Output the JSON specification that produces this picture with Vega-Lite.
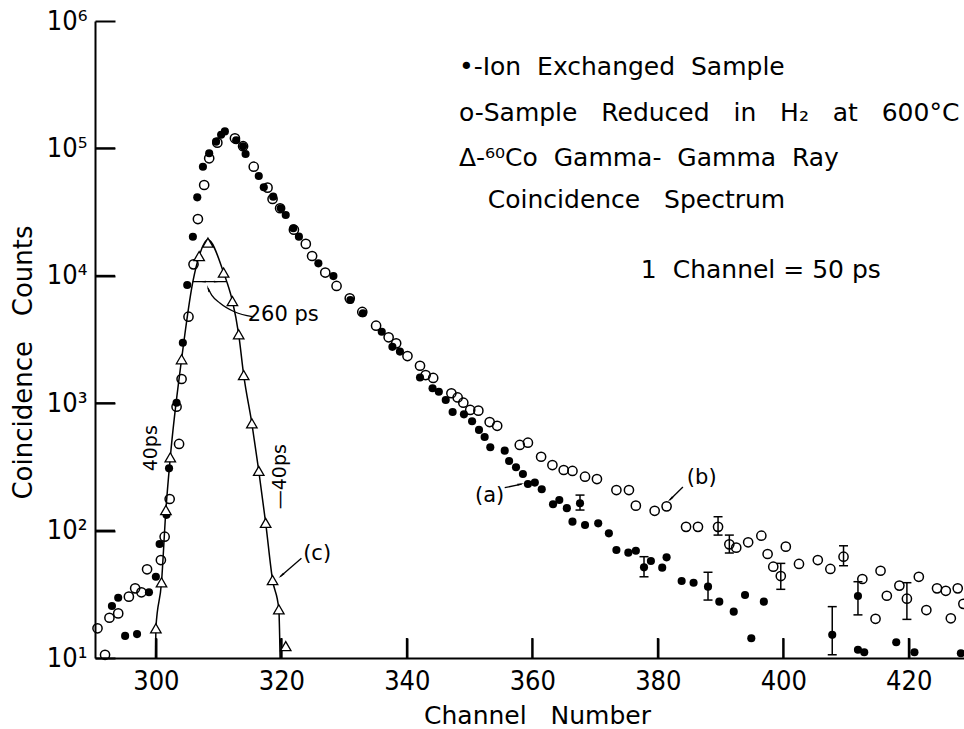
{
  "$schema": "https://vega.github.io/schema/vega-lite/v6.json",
  "width": 869,
  "height": 637,
  "autosize": {"type": "none"},
  "padding": {"left": 95, "top": 21, "right": 0, "bottom": 71},
  "background": "white",
  "config": {
    "view": {"stroke": null},
    "axis": {"grid": false},
    "text": {"font": "DejaVu Sans", "color": "black"}
  },
  "datasets": {
    "ion": [
      {"ch": 293.0, "v": 25.6}, {"ch": 294.0, "v": 29.7}, {"ch": 295.1, "v": 14.9}, {"ch": 297.0, "v": 15.4},
      {"ch": 298.9, "v": 32.8}, {"ch": 300.0, "v": 43.4}, {"ch": 300.6, "v": 78.5}, {"ch": 301.7, "v": 133},
      {"ch": 302.1, "v": 308}, {"ch": 303.3, "v": 1009}, {"ch": 304.3, "v": 2985}, {"ch": 305.0, "v": 8470},
      {"ch": 305.9, "v": 20270}, {"ch": 306.6, "v": 41300}, {"ch": 307.5, "v": 71800}, {"ch": 308.5, "v": 91600},
      {"ch": 309.6, "v": 113000}, {"ch": 310.4, "v": 128000}, {"ch": 311.0, "v": 136000}, {"ch": 312.8, "v": 116000},
      {"ch": 313.9, "v": 104000}, {"ch": 314.3, "v": 90400}, {"ch": 316.4, "v": 60700}, {"ch": 317.2, "v": 49500},
      {"ch": 318.7, "v": 41800}, {"ch": 319.9, "v": 33900}, {"ch": 320.7, "v": 30000}, {"ch": 321.9, "v": 23600},
      {"ch": 322.8, "v": 20300}, {"ch": 325.9, "v": 12530}, {"ch": 328.3, "v": 9950}, {"ch": 331.0, "v": 6460},
      {"ch": 333.0, "v": 5080}, {"ch": 336.0, "v": 3640}, {"ch": 337.7, "v": 2770}, {"ch": 338.9, "v": 2540},
      {"ch": 342.1, "v": 1592}, {"ch": 344.1, "v": 1309}, {"ch": 345.1, "v": 1231}, {"ch": 346.2, "v": 1060},
      {"ch": 347.3, "v": 853}, {"ch": 349.1, "v": 818}, {"ch": 350.4, "v": 721}, {"ch": 351.5, "v": 617},
      {"ch": 352.4, "v": 543}, {"ch": 353.3, "v": 451}, {"ch": 355.6, "v": 424}, {"ch": 356.3, "v": 352},
      {"ch": 357.4, "v": 314}, {"ch": 358.5, "v": 278}, {"ch": 359.3, "v": 232}, {"ch": 360.4, "v": 238},
      {"ch": 361.5, "v": 211}, {"ch": 363.3, "v": 161}, {"ch": 364.3, "v": 174}, {"ch": 365.5, "v": 150},
      {"ch": 366.4, "v": 117.6}, {"ch": 367.6, "v": 164}, {"ch": 368.4, "v": 110.7}, {"ch": 370.5, "v": 114},
      {"ch": 372.2, "v": 95.2}, {"ch": 373.4, "v": 70.5}, {"ch": 375.3, "v": 67.1}, {"ch": 376.5, "v": 69.5},
      {"ch": 377.8, "v": 51.5}, {"ch": 378.9, "v": 57.7}, {"ch": 380.7, "v": 51.2}, {"ch": 381.4, "v": 61.7},
      {"ch": 383.8, "v": 40.2}, {"ch": 385.7, "v": 39.0}, {"ch": 388.0, "v": 36.3}, {"ch": 389.8, "v": 27.7},
      {"ch": 392.1, "v": 23.1}, {"ch": 393.9, "v": 31.2}, {"ch": 394.9, "v": 14.3}, {"ch": 396.9, "v": 27.7},
      {"ch": 407.8, "v": 15.2}, {"ch": 411.9, "v": 30.7}, {"ch": 411.9, "v": 11.6}, {"ch": 412.9, "v": 11.1},
      {"ch": 418.0, "v": 13.3}, {"ch": 420.9, "v": 11.1}, {"ch": 428.3, "v": 10.9}
    ],
    "red": [
      {"ch": 290.7, "v": 17.1}, {"ch": 291.9, "v": 10.6}, {"ch": 292.6, "v": 20.7}, {"ch": 294.0, "v": 22.4},
      {"ch": 295.7, "v": 30.3}, {"ch": 296.7, "v": 35.2}, {"ch": 297.7, "v": 32.8}, {"ch": 298.6, "v": 49.7},
      {"ch": 300.8, "v": 58.7}, {"ch": 301.4, "v": 89.6}, {"ch": 302.2, "v": 177}, {"ch": 303.7, "v": 479},
      {"ch": 303.3, "v": 939}, {"ch": 304.1, "v": 1549}, {"ch": 305.2, "v": 4775}, {"ch": 306.0, "v": 12300},
      {"ch": 306.7, "v": 27900}, {"ch": 307.7, "v": 51600}, {"ch": 308.5, "v": 83600}, {"ch": 309.8, "v": 111000},
      {"ch": 312.6, "v": 120000}, {"ch": 313.9, "v": 104000}, {"ch": 315.6, "v": 71800}, {"ch": 317.8, "v": 49200},
      {"ch": 318.6, "v": 40100}, {"ch": 319.8, "v": 33900}, {"ch": 322.0, "v": 23000}, {"ch": 323.9, "v": 17800},
      {"ch": 324.9, "v": 14300}, {"ch": 327.0, "v": 10600}, {"ch": 328.8, "v": 8320}, {"ch": 330.9, "v": 6650},
      {"ch": 332.9, "v": 5200}, {"ch": 335.1, "v": 4060}, {"ch": 337.1, "v": 3290}, {"ch": 338.3, "v": 2950},
      {"ch": 340.1, "v": 2345}, {"ch": 342.1, "v": 1968}, {"ch": 343.0, "v": 1663}, {"ch": 344.2, "v": 1578},
      {"ch": 347.1, "v": 1197}, {"ch": 348.1, "v": 1109}, {"ch": 349.0, "v": 1009}, {"ch": 350.1, "v": 885},
      {"ch": 351.4, "v": 874}, {"ch": 353.2, "v": 711}, {"ch": 354.4, "v": 665}, {"ch": 358.0, "v": 470},
      {"ch": 359.3, "v": 490}, {"ch": 361.4, "v": 380}, {"ch": 363.2, "v": 327}, {"ch": 365.0, "v": 299},
      {"ch": 366.4, "v": 294}, {"ch": 368.4, "v": 265}, {"ch": 370.3, "v": 254}, {"ch": 373.4, "v": 208},
      {"ch": 375.4, "v": 208}, {"ch": 376.5, "v": 157}, {"ch": 379.5, "v": 143}, {"ch": 381.4, "v": 155},
      {"ch": 384.5, "v": 107}, {"ch": 386.4, "v": 107}, {"ch": 389.6, "v": 107}, {"ch": 391.4, "v": 78},
      {"ch": 392.5, "v": 73.5}, {"ch": 394.4, "v": 80.9}, {"ch": 396.5, "v": 91.2}, {"ch": 397.5, "v": 65.5},
      {"ch": 398.4, "v": 52.1}, {"ch": 399.6, "v": 44.0}, {"ch": 400.4, "v": 74.8}, {"ch": 402.5, "v": 54.7},
      {"ch": 405.5, "v": 58.7}, {"ch": 407.5, "v": 50.0}, {"ch": 409.6, "v": 62.4}, {"ch": 412.6, "v": 41.7},
      {"ch": 414.7, "v": 20.3}, {"ch": 415.5, "v": 48.4}, {"ch": 416.5, "v": 30.8}, {"ch": 418.5, "v": 37.0},
      {"ch": 419.7, "v": 29.2}, {"ch": 421.6, "v": 43.4}, {"ch": 422.8, "v": 23.8}, {"ch": 424.5, "v": 35.2},
      {"ch": 425.9, "v": 33.7}, {"ch": 426.7, "v": 20.5}, {"ch": 427.8, "v": 35.2}, {"ch": 428.7, "v": 26.6}
    ],
    "co": [
      {"ch": 300.0, "v": 17.1}, {"ch": 300.9, "v": 39.3}, {"ch": 301.6, "v": 145}, {"ch": 302.3, "v": 376},
      {"ch": 304.1, "v": 2213}, {"ch": 306.9, "v": 14300}, {"ch": 308.3, "v": 18200}, {"ch": 310.8, "v": 10600},
      {"ch": 312.2, "v": 6340}, {"ch": 313.2, "v": 3475}, {"ch": 314.0, "v": 1663}, {"ch": 315.3, "v": 695},
      {"ch": 316.4, "v": 294}, {"ch": 317.5, "v": 115}, {"ch": 318.6, "v": 40.9}, {"ch": 319.6, "v": 24.1},
      {"ch": 320.7, "v": 12.4}
    ],
    "coline": [
      {"ch": 299.95, "v": 10}, {"ch": 300.0, "v": 17.1}, {"ch": 300.9, "v": 39.3}, {"ch": 301.6, "v": 145},
      {"ch": 302.3, "v": 376}, {"ch": 304.1, "v": 2213}, {"ch": 305.9, "v": 9000}, {"ch": 306.9, "v": 14300},
      {"ch": 308.3, "v": 19200}, {"ch": 310.8, "v": 10600}, {"ch": 311.3, "v": 9000}, {"ch": 312.2, "v": 6340},
      {"ch": 313.2, "v": 3475}, {"ch": 314.0, "v": 1663}, {"ch": 315.3, "v": 695}, {"ch": 316.4, "v": 294},
      {"ch": 317.5, "v": 115}, {"ch": 318.6, "v": 40.9}, {"ch": 319.6, "v": 24.1}, {"ch": 319.8, "v": 10}
    ],
    "err": [
      {"ch": 367.6, "lo": 145, "hi": 190}, {"ch": 377.8, "lo": 43.4, "hi": 62.4}, {"ch": 388.0, "lo": 28.5, "hi": 47.1},
      {"ch": 407.8, "lo": 10.6, "hi": 25.3}, {"ch": 411.9, "lo": 21.8, "hi": 39.7},
      {"ch": 389.6, "lo": 92.2, "hi": 128.5}, {"ch": 391.4, "lo": 66.7, "hi": 92.2}, {"ch": 399.6, "lo": 34.6, "hi": 55.3},
      {"ch": 409.6, "lo": 53.0, "hi": 76.0}, {"ch": 419.7, "lo": 20.1, "hi": 39.0}
    ],
    "xticks": [
      {"ch": 300, "v": 11.98}, {"ch": 320, "v": 11.98}, {"ch": 340, "v": 11.98}, {"ch": 360, "v": 11.98},
      {"ch": 380, "v": 11.98}, {"ch": 400, "v": 11.98}, {"ch": 420, "v": 11.98}
    ],
    "yticks": [
      {"ch": 291.9, "v": 100}, {"ch": 291.9, "v": 1000}, {"ch": 291.9, "v": 10000}, {"ch": 291.9, "v": 100000}
    ],
    "legend": [
      {"ch": 348.3, "v": 436000, "t": "•-Ion \u00a0Exchanged \u00a0Sample"},
      {"ch": 348.3, "v": 190000, "t": "o-Sample \u00a0\u00a0Reduced \u00a0\u00a0in \u00a0\u00a0H₂ \u00a0\u00a0at \u00a0\u00a0600°C"},
      {"ch": 348.3, "v": 84100, "t": "Δ-⁶⁰Co \u00a0Gamma- \u00a0Gamma \u00a0Ray"},
      {"ch": 352.9, "v": 39400, "t": "Coincidence \u00a0\u00a0Spectrum"},
      {"ch": 377.3, "v": 11100, "t": "1 \u00a0Channel = 50 ps"}
    ],
    "notes": [
      {"ch": 320.3, "v": 4920, "t": "260 ps"},
      {"ch": 353.2, "v": 187, "t": "(a)"},
      {"ch": 387.0, "v": 259, "t": "(b)"},
      {"ch": 325.7, "v": 65.5, "t": "(c)"}
    ],
    "vnotes": [
      {"ch": 299.3, "v": 443, "t": "40ps"},
      {"ch": 319.8, "v": 265, "t": "—40ps"}
    ],
    "arrows": [
      {"g": "a", "ch": 355.6, "v": 217}, {"g": "a", "ch": 358.3, "v": 232},
      {"g": "b", "ch": 384.0, "v": 220}, {"g": "b", "ch": 381.9, "v": 174},
      {"g": "c", "ch": 323.2, "v": 60.7}, {"g": "c", "ch": 319.8, "v": 43.4},
      {"g": "ps", "ch": 315.4, "v": 4775}, {"g": "ps", "ch": 312.6, "v": 5200}, {"g": "ps", "ch": 310.2, "v": 6120},
      {"g": "ps", "ch": 308.9, "v": 7060}, {"g": "ps", "ch": 308.3, "v": 7980},
      {"g": "fw", "ch": 305.9, "v": 9000}, {"g": "fw", "ch": 311.3, "v": 9000}
    ]
  },
  "layer": [
    {
      "data": {"name": "coline"},
      "mark": {"type": "line", "color": "black", "strokeWidth": 1.5, "interpolate": "monotone"},
      "encoding": {
        "x": {
          "field": "ch", "type": "quantitative",
          "scale": {"domain": [290.3, 428.8], "nice": false, "zero": false},
          "axis": {
            "orient": "bottom", "title": "Channel \u00a0\u00a0Number", "values": [300, 320, 340, 360, 380, 400, 420],
            "domainColor": "black", "domainWidth": 2, "ticks": true, "tickColor": "black", "tickWidth": 2, "tickSize": -20, "tickOpacity": 1,
            "labelPadding": 30, "labelFont": "Liberation Sans Narrow, DejaVu Sans Condensed, DejaVu Sans",
            "labelFontSize": 27, "labelColor": "black", "labelFlush": false, "labelOverlap": false,
            "titleFont": "DejaVu Sans", "titleFontSize": 25, "titleFontWeight": "normal", "titleColor": "black",
            "titleX": 442, "titleY": 57, "titleBaseline": "middle", "titleAlign": "center"
          }
        },
        "y": {
          "field": "v", "type": "quantitative",
          "scale": {"type": "log", "domain": [10, 1000000], "nice": false},
          "axis": {
            "orient": "left", "title": "Coincidence \u00a0\u00a0Counts", "values": [10, 100, 1000, 10000, 100000, 1000000],
            "labelExpr": "datum.value == 10 ? '10¹' : datum.value == 100 ? '10²' : datum.value == 1000 ? '10³' : datum.value == 10000 ? '10⁴' : datum.value == 100000 ? '10⁵' : '10⁶'",
            "domainColor": "black", "domainWidth": 2, "ticks": true, "tickColor": "black", "tickWidth": 2, "tickSize": -20, "tickOpacity": 1,
            "labelPadding": 28, "labelFont": "Liberation Sans Narrow, DejaVu Sans Condensed, DejaVu Sans",
            "labelFontSize": 27, "labelColor": "black", "labelFlush": false, "labelOverlap": false, "labelBaseline": "middle",
            "titleFont": "DejaVu Sans", "titleFontSize": 26, "titleFontWeight": "normal", "titleColor": "black",
            "titleX": -72, "titleY": 341, "titleBaseline": "middle", "titleAlign": "center", "titleAngle": 270
          }
        }
      }
    },
    {
      "data": {"name": "xticks"},
      "mark": {"type": "tick", "orient": "vertical", "color": "black", "size": 20, "thickness": 2, "opacity": 1},
      "encoding": {
        "x": {"field": "ch", "type": "quantitative"},
        "y": {"field": "v", "type": "quantitative"}
      }
    },
    {
      "data": {"name": "yticks"},
      "mark": {"type": "tick", "orient": "horizontal", "color": "black", "size": 20, "thickness": 2, "opacity": 1},
      "encoding": {
        "x": {"field": "ch", "type": "quantitative"},
        "y": {"field": "v", "type": "quantitative"}
      }
    },
    {
      "data": {"name": "err"},
      "mark": {"type": "rule", "color": "black", "strokeWidth": 1.5},
      "encoding": {
        "x": {"field": "ch", "type": "quantitative"},
        "y": {"field": "lo", "type": "quantitative"},
        "y2": {"field": "hi"}
      }
    },
    {
      "data": {"name": "err"},
      "mark": {"type": "tick", "orient": "horizontal", "color": "black", "size": 9, "thickness": 1.5, "opacity": 1},
      "encoding": {
        "x": {"field": "ch", "type": "quantitative"},
        "y": {"field": "lo", "type": "quantitative"}
      }
    },
    {
      "data": {"name": "err"},
      "mark": {"type": "tick", "orient": "horizontal", "color": "black", "size": 9, "thickness": 1.5, "opacity": 1},
      "encoding": {
        "x": {"field": "ch", "type": "quantitative"},
        "y": {"field": "hi", "type": "quantitative"}
      }
    },
    {
      "data": {"name": "red"},
      "mark": {"type": "point", "shape": "circle", "filled": false, "stroke": "black", "strokeWidth": 1.5, "size": 85, "opacity": 1},
      "encoding": {
        "x": {"field": "ch", "type": "quantitative"},
        "y": {"field": "v", "type": "quantitative"}
      }
    },
    {
      "data": {"name": "ion"},
      "mark": {"type": "circle", "color": "black", "size": 66, "opacity": 1},
      "encoding": {
        "x": {"field": "ch", "type": "quantitative"},
        "y": {"field": "v", "type": "quantitative"}
      }
    },
    {
      "data": {"name": "co"},
      "mark": {"type": "point", "shape": "triangle-up", "filled": true, "fill": "white", "stroke": "black", "strokeWidth": 1.3, "size": 110, "opacity": 1},
      "encoding": {
        "x": {"field": "ch", "type": "quantitative"},
        "y": {"field": "v", "type": "quantitative"}
      }
    },
    {
      "data": {"name": "arrows"},
      "mark": {"type": "line", "color": "black", "strokeWidth": 1.3, "interpolate": "monotone"},
      "encoding": {
        "x": {"field": "ch", "type": "quantitative"},
        "y": {"field": "v", "type": "quantitative"},
        "detail": {"field": "g", "type": "nominal"},
        "order": {"field": "ch", "type": "quantitative"}
      }
    },
    {
      "data": {"values": [{"ch": 358.0, "v": 231}]},
      "mark": {"type": "point", "shape": "wedge", "filled": true, "color": "black", "size": 70, "angle": 78, "opacity": 1},
      "encoding": {"x": {"field": "ch", "type": "quantitative"}, "y": {"field": "v", "type": "quantitative"}}
    },
    {
      "data": {"values": [{"ch": 382.1, "v": 178}, {"ch": 320.1, "v": 44.8}]},
      "mark": {"type": "point", "shape": "wedge", "filled": true, "color": "black", "size": 70, "angle": 228, "opacity": 1},
      "encoding": {"x": {"field": "ch", "type": "quantitative"}, "y": {"field": "v", "type": "quantitative"}}
    },
    {
      "data": {"values": [{"ch": 308.4, "v": 7800}]},
      "mark": {"type": "point", "shape": "wedge", "filled": true, "color": "black", "size": 70, "angle": 340, "opacity": 1},
      "encoding": {"x": {"field": "ch", "type": "quantitative"}, "y": {"field": "v", "type": "quantitative"}}
    },
    {
      "data": {"values": [{"ch": 307.6, "v": 9000}]},
      "mark": {"type": "point", "shape": "wedge", "filled": true, "color": "black", "size": 60, "angle": 270, "opacity": 1},
      "encoding": {"x": {"field": "ch", "type": "quantitative"}, "y": {"field": "v", "type": "quantitative"}}
    },
    {
      "data": {"values": [{"ch": 309.6, "v": 9000}]},
      "mark": {"type": "point", "shape": "wedge", "filled": true, "color": "black", "size": 60, "angle": 90, "opacity": 1},
      "encoding": {"x": {"field": "ch", "type": "quantitative"}, "y": {"field": "v", "type": "quantitative"}}
    },
    {
      "data": {"values": [{"ch": 300.0, "v": 12.8}]},
      "mark": {"type": "point", "shape": "wedge", "filled": true, "color": "black", "size": 50, "angle": 0, "opacity": 1},
      "encoding": {"x": {"field": "ch", "type": "quantitative"}, "y": {"field": "v", "type": "quantitative"}}
    },
    {
      "data": {"values": [{"ch": 319.85, "v": 13.5}]},
      "mark": {"type": "point", "shape": "wedge", "filled": true, "color": "black", "size": 50, "angle": 180, "opacity": 1},
      "encoding": {"x": {"field": "ch", "type": "quantitative"}, "y": {"field": "v", "type": "quantitative"}}
    },
    {
      "data": {"name": "legend"},
      "mark": {"type": "text", "align": "left", "baseline": "middle", "fontSize": 25, "font": "DejaVu Sans", "color": "black"},
      "encoding": {
        "x": {"field": "ch", "type": "quantitative"},
        "y": {"field": "v", "type": "quantitative"},
        "text": {"field": "t"}
      }
    },
    {
      "data": {"name": "notes"},
      "mark": {"type": "text", "align": "center", "baseline": "middle", "fontSize": 21, "font": "DejaVu Sans", "color": "black"},
      "encoding": {
        "x": {"field": "ch", "type": "quantitative"},
        "y": {"field": "v", "type": "quantitative"},
        "text": {"field": "t"}
      }
    },
    {
      "data": {"name": "vnotes"},
      "mark": {"type": "text", "align": "center", "baseline": "middle", "fontSize": 19, "font": "DejaVu Sans", "angle": 270, "color": "black"},
      "encoding": {
        "x": {"field": "ch", "type": "quantitative"},
        "y": {"field": "v", "type": "quantitative"},
        "text": {"field": "t"}
      }
    }
  ]
}
